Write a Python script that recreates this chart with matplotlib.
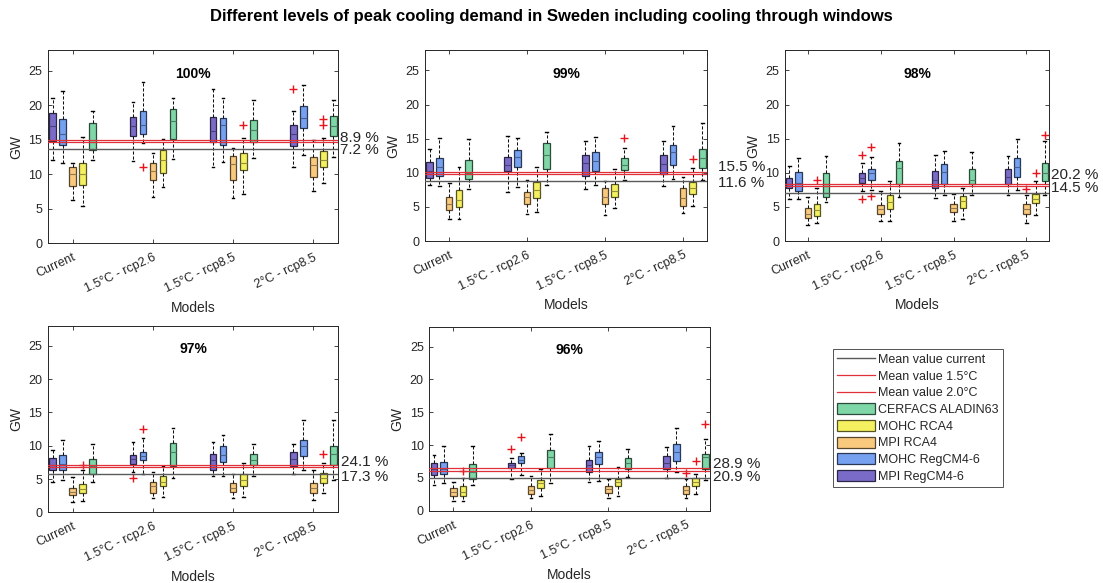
import numpy as np
import matplotlib
matplotlib.use("Agg")
import matplotlib.pyplot as plt
import matplotlib.colors as mcolors
from matplotlib.lines import Line2D
from matplotlib.patches import Patch

plt.rcParams['font.family'] = ['Liberation Sans', 'DejaVu Sans']

# Scenarios (x groups) and models (boxes in each group)
scenarios = ["Current", "1.5°C - rcp2.6", "1.5°C - rcp8.5", "2°C - rcp8.5"]
models = ["MPI RegCM4-6", "MOHC RegCM4-6", "MPI RCA4", "MOHC RCA4", "CERFACS ALADIN63"]
model_colors = ["#7A6BC8", "#76A0F0", "#F9C97E", "#F5F060", "#7FD6A6"]
panels = ["100%", "99%", "98%", "97%", "96%"]

# Box statistics (GW): per panel, one row per scenario, one value per model
whislo = {
    "100%": [[12.1, 11.6, 6.3, 5.4, 12.1], [11.9, 14.5, 6.7, 8.1, 12.2],
             [11.1, 11.8, 6.5, 7.1, 12.3], [11.1, 12.8, 7.6, 8.8, 12.5]],
    "99%": [[8.2, 8.1, 3.2, 3.3, 7.6], [7.2, 7.9, 3.9, 4.3, 8.2],
            [7.6, 8.2, 3.8, 4.9, 8.9], [8.1, 9.1, 4.1, 5.1, 8.9]],
    "98%": [[6.1, 6.2, 2.3, 2.6, 5.7], [7.3, 7.5, 2.9, 2.9, 6.4],
            [6.3, 6.7, 2.9, 3.3, 6.8], [6.8, 7.5, 2.6, 3.8, 6.7]],
    "97%": [[4.6, 4.9, 1.6, 1.75, 4.6], [6.0, 5.8, 2.1, 2.35, 5.1],
            [5.4, 5.4, 2.1, 2.35, 5.4], [5.8, 6.4, 1.85, 2.85, 4.9]],
    "96%": [[3.9, 4.2, 1.5, 1.5, 3.9], [4.8, 5.4, 1.9, 2.3, 4.2],
            [4.3, 4.5, 2.0, 2.2, 5.2], [5.0, 5.9, 1.9, 2.5, 4.7]],
}
q1 = {
    "100%": [[14.8, 14.2, 8.3, 8.5, 13.5], [15.5, 15.9, 9.2, 10.2, 15.1],
             [14.7, 14.3, 9.1, 10.6, 14.7], [14.1, 16.7, 9.6, 11.0, 15.5]],
    "99%": [[9.25, 9.5, 4.55, 5.0, 9.05], [10.2, 10.8, 5.4, 6.3, 10.5],
            [9.5, 10.3, 5.4, 6.5, 10.4], [9.8, 11.2, 5.1, 6.9, 10.7]],
    "98%": [[7.8, 7.4, 3.4, 3.6, 6.45], [8.5, 8.9, 4.0, 4.65, 8.4],
            [7.8, 8.4, 4.2, 4.9, 8.3], [8.3, 9.4, 3.9, 5.5, 8.75]],
    "97%": [[6.3, 6.3, 2.6, 2.85, 5.8], [7.3, 7.9, 2.95, 3.9, 7.0],
            [6.4, 7.5, 3.0, 4.0, 7.1], [7.0, 8.4, 2.85, 4.4, 7.1]],
    "96%": [[5.45, 5.6, 2.3, 2.25, 4.9], [6.45, 7.2, 2.5, 3.4, 6.45],
            [5.9, 7.1, 2.7, 3.7, 6.35], [6.3, 7.6, 2.5, 3.8, 6.35]],
}
med = {
    "100%": [[17.0, 15.9, 10.0, 10.0, 14.7], [17.0, 17.2, 10.5, 12.0, 17.7],
             [16.3, 17.1, 11.5, 11.7, 16.4], [15.8, 18.1, 11.3, 12.1, 17.0]],
    "99%": [[10.3, 10.8, 5.4, 6.0, 10.0], [11.2, 12.3, 6.4, 7.5, 12.6],
            [11.4, 11.8, 6.5, 7.4, 11.2], [11.3, 13.0, 6.3, 7.8, 12.1]],
    "98%": [[8.4, 8.5, 4.0, 4.5, 8.3], [9.2, 10.0, 4.7, 5.7, 10.7],
            [8.9, 10.1, 4.8, 5.9, 8.9], [9.4, 10.9, 4.7, 6.2, 10.0]],
    "97%": [[7.1, 7.3, 3.1, 3.5, 6.9], [8.0, 8.5, 3.9, 4.6, 9.0],
            [7.8, 8.6, 3.7, 4.9, 7.9], [8.0, 9.9, 3.7, 5.1, 8.8]],
    "96%": [[6.35, 6.35, 2.9, 2.9, 5.9], [6.9, 7.8, 3.15, 4.2, 8.2],
            [6.9, 8.2, 3.25, 4.4, 7.2], [7.3, 9.0, 3.15, 4.4, 8.2]],
}
q3 = {
    "100%": [[18.9, 17.95, 11.0, 11.7, 17.4], [18.3, 19.1, 11.6, 13.5, 19.5],
             [18.3, 18.2, 12.7, 13.1, 17.8], [17.2, 19.9, 12.5, 13.4, 18.5]],
    "99%": [[11.55, 12.1, 6.4, 7.5, 11.9], [12.3, 13.3, 7.2, 8.7, 14.3],
            [12.6, 13.1, 7.8, 8.3, 12.1], [12.6, 14.1, 7.8, 8.7, 13.5]],
    "98%": [[9.3, 10.1, 4.8, 5.4, 10.0], [10.0, 10.6, 5.3, 6.7, 11.8],
            [10.2, 11.3, 5.4, 6.6, 10.5], [10.6, 12.1, 5.4, 6.9, 11.4]],
    "97%": [[8.1, 8.6, 3.6, 4.2, 8.0], [8.6, 9.1, 4.5, 5.5, 10.4],
            [8.8, 9.9, 4.4, 5.7, 8.8], [9.1, 10.9, 4.4, 5.9, 9.9]],
    "96%": [[7.2, 7.5, 3.4, 3.7, 7.1], [7.3, 8.4, 3.8, 4.7, 9.25],
            [7.7, 9.0, 3.8, 4.9, 8.0], [8.3, 10.2, 3.8, 5.0, 8.7]],
}
whishi = {
    "100%": [[21.0, 22.1, 11.7, 15.4, 19.2], [20.4, 23.4, 13.1, 15.1, 21.0],
             [22.4, 21.1, 13.8, 15.3, 20.8], [19.2, 22.9, 14.9, 15.2, 20.8]],
    "99%": [[13.5, 15.1, 8.5, 10.8, 14.9], [15.4, 15.1, 9.0, 10.9, 16.0],
            [14.6, 15.3, 8.8, 10.6, 13.7], [14.6, 16.8, 9.4, 10.7, 17.3]],
    "98%": [[10.95, 12.1, 6.4, 7.8, 12.4], [11.4, 12.3, 7.4, 8.75, 14.3],
            [12.6, 13.2, 6.9, 7.8, 13.0], [12.4, 15.0, 6.7, 8.75, 14.7]],
    "97%": [[9.3, 10.8, 5.3, 6.4, 10.3], [10.5, 11.1, 6.0, 7.0, 12.6],
            [10.6, 11.6, 5.8, 7.4, 10.3], [10.3, 13.9, 6.4, 7.4, 13.9]],
    "96%": [[8.5, 9.9, 4.4, 5.0, 9.8], [8.0, 8.8, 5.3, 6.3, 11.7],
            [9.9, 10.7, 4.9, 6.6, 9.35], [9.65, 12.55, 4.9, 5.6, 11.0]],
}
# Outliers: (scenario index, model index, value)
outliers = {
    "100%": [(1, 1, 11.1), (2, 3, 17.1), (3, 0, 22.4), (3, 3, 18.0), (3, 3, 17.1)],
    "99%": [(2, 4, 15.1), (3, 3, 12.0)],
    "98%": [(0, 3, 8.9), (1, 0, 12.6), (1, 0, 6.1), (1, 1, 13.8), (1, 1, 6.6),
            (3, 2, 7.6), (3, 3, 10.0), (3, 4, 15.5)],
    "97%": [(0, 3, 7.1), (1, 0, 5.1), (1, 1, 12.5), (3, 3, 8.7)],
    "96%": [(0, 3, 6.1), (1, 0, 9.35), (1, 1, 11.2), (3, 2, 5.8), (3, 3, 7.6), (3, 4, 13.2)],
}

# Mean values (GW) and increase labels
mean_current = [13.7, 8.8, 7.0, 5.75, 5.0]
mean_15 = [14.69, 9.82, 8.0, 6.74, 6.05]
mean_20 = [14.92, 10.16, 8.41, 7.14, 6.45]
label_20 = ["8.9 %", "15.5 %", "20.2 %", "24.1 %", "28.9 %"]
label_15 = ["7.2 %", "11.6 %", "14.5 %", "17.3 %", "20.9 %"]
label_y_top = [15.3, 10.9, 9.7, 7.6, 7.06]
label_y_bot = [13.5, 8.56, 7.7, 5.36, 5.08]

# layout
rects = [[0.0435, 0.5827, 0.263, 0.3316],
         [0.3853, 0.5866, 0.2557, 0.3276],
         [0.7117, 0.5866, 0.2394, 0.3276],
         [0.0435, 0.1213, 0.263, 0.3196],
         [0.3892, 0.124, 0.2545, 0.3151]]
label_x = [4.335, 4.45, 4.33, 4.345, 4.35]
offsets = np.array([-0.25, -0.125, 0.0, 0.125, 0.25])

gray = "#262626"


def darker(c, f):
    return tuple(np.array(mcolors.to_rgb(c)) * f)


fig = plt.figure(figsize=(11.03, 5.83), dpi=100)

for p, name in enumerate(panels):
    ax = fig.add_axes(rects[p])
    stats, pos, cols = [], [], []
    for g in range(len(scenarios)):
        for m in range(len(models)):
            fl = [v for (gi, mi, v) in outliers[name] if gi == g and mi == m]
            stats.append(dict(whislo=whislo[name][g][m], q1=q1[name][g][m],
                              med=med[name][g][m], q3=q3[name][g][m],
                              whishi=whishi[name][g][m], fliers=fl))
            pos.append(g + 1 + offsets[m])
            cols.append(model_colors[m])

    bp = ax.bxp(stats, positions=pos, widths=0.085, capwidths=0.035,
                patch_artist=True, showfliers=True, manage_ticks=False,
                whiskerprops=dict(color="#111111", lw=0.75, linestyle=(0, (3, 1.8))),
                capprops=dict(color="black", lw=1.0),
                flierprops=dict(marker="+", markeredgecolor="#e8141c",
                                markersize=6, markeredgewidth=1.0))
    for patch, c in zip(bp["boxes"], cols):
        patch.set_facecolor(c)
        patch.set_edgecolor(darker(c, 0.35))
        patch.set_linewidth(0.9)
    for ln, c in zip(bp["medians"], cols):
        ln.set_color(darker(c, 0.6))
        ln.set_linewidth(0.8)

    ax.axhline(mean_current[p], color="#5a5a5a", lw=1.0, zorder=5)
    ax.axhline(mean_15[p], color="#e0303a", lw=0.9, zorder=5)
    ax.axhline(mean_20[p], color="#e0303a", lw=0.9, zorder=5)

    ax.text(label_x[p], label_y_top[p], label_20[p], fontsize=11, color=gray,
            va="center", ha="left", clip_on=False)
    ax.text(label_x[p], label_y_bot[p], label_15[p], fontsize=11, color=gray,
            va="center", ha="left", clip_on=False)

    ax.set_xlim(0.69, 4.31)
    ax.set_ylim(0, 28)
    ax.set_yticks([0, 5, 10, 15, 20, 25])
    ax.set_xticks([1, 2, 3, 4])
    ax.set_xticklabels(scenarios, rotation=25, ha="right", rotation_mode="anchor")
    ax.tick_params(direction="in", top=True, right=True, length=3, width=0.6,
                   labelsize=9, colors=gray, pad=4)
    ax.tick_params(axis="x", pad=6)
    for s in ax.spines.values():
        s.set_color(gray)
        s.set_linewidth(0.7)
    ax.set_xlabel("Models", fontsize=10, color=gray)
    ax.set_ylabel("GW", fontsize=10, color=gray)
    ax.text(0.5, 0.875, name, transform=ax.transAxes, ha="center", va="center",
            fontsize=10, fontweight="bold", color="black")

fig.text(0.5, 1 - 17 / 583,
         "Different levels of peak cooling demand in Sweden including cooling through windows",
         ha="center", va="center", fontsize=12, fontweight="bold")

handles = [Line2D([], [], color="#5a5a5a", lw=1.0),
           Line2D([], [], color="#e0303a", lw=0.9),
           Line2D([], [], color="#e0303a", lw=0.9)]
labels = ["Mean value current", "Mean value 1.5°C", "Mean value 2.0°C"]
for m in [4, 3, 2, 1, 0]:
    handles.append(Patch(facecolor=model_colors[m], edgecolor=darker(model_colors[m], 0.35), lw=0.9))
    labels.append(models[m])
leg = fig.legend(handles, labels, loc="upper left", bbox_to_anchor=(833 / 1103, 1 - 349 / 583),
                 fontsize=9, frameon=True, fancybox=False, handlelength=3.0,
                 handleheight=1.0, handletextpad=0.25, labelspacing=0.3,
                 borderpad=0.35, borderaxespad=0.0)
leg.get_frame().set_edgecolor(gray)
leg.get_frame().set_linewidth(0.7)
for t in leg.get_texts():
    t.set_color(gray)

fig.savefig("out.png", dpi=100)
